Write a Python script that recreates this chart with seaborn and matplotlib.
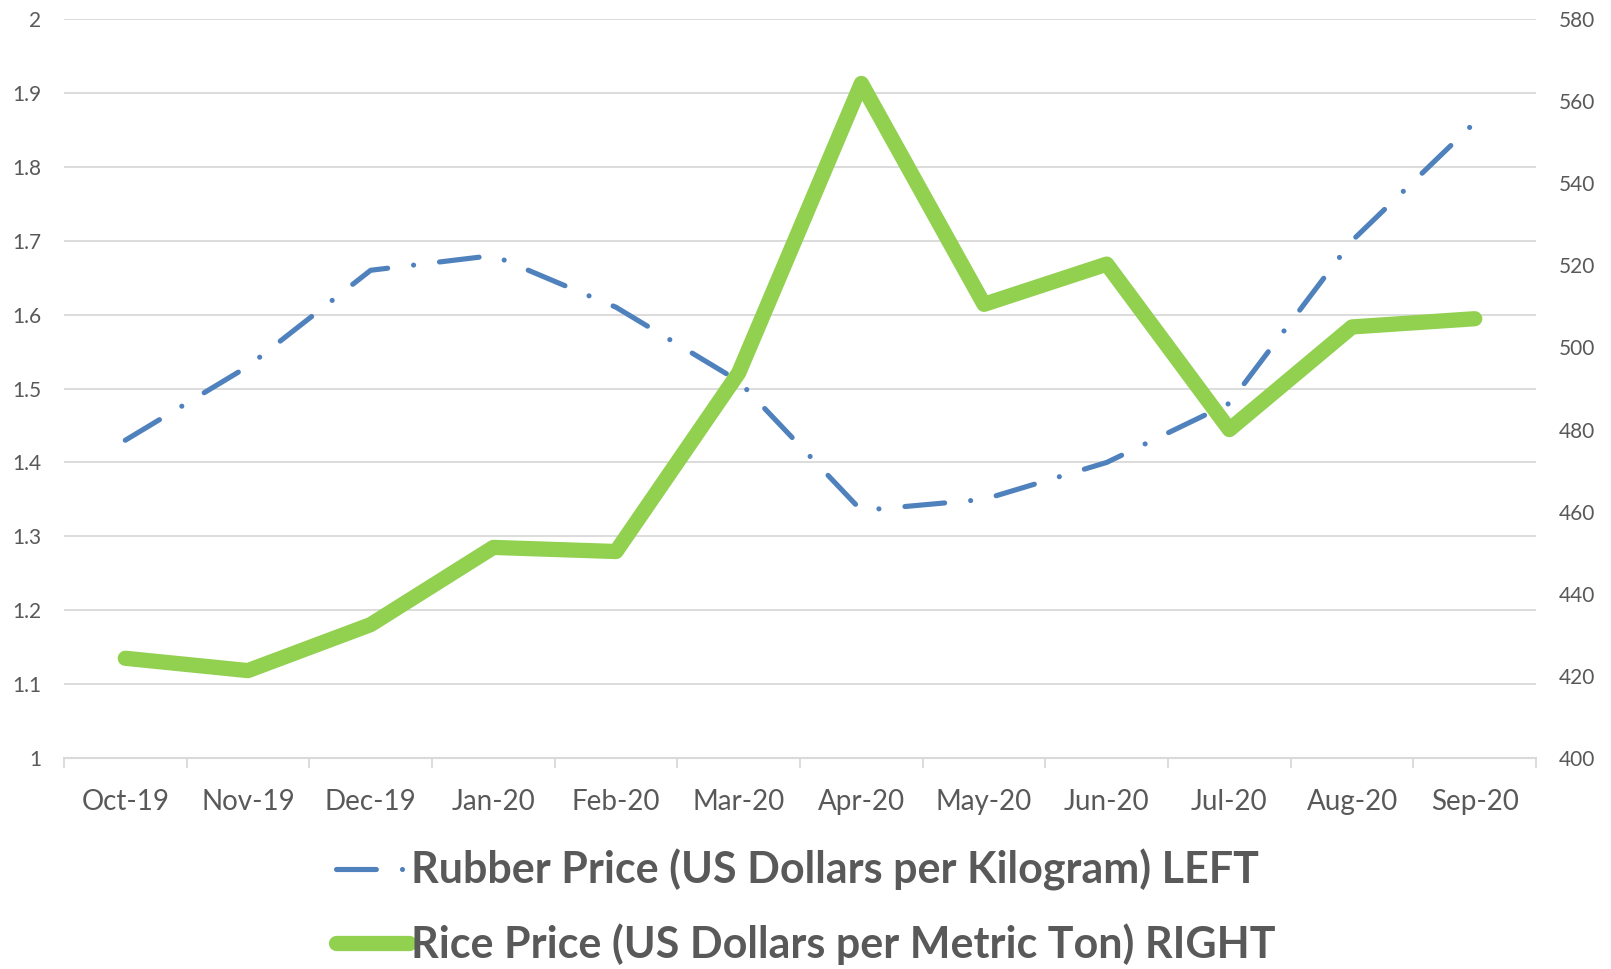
import matplotlib
matplotlib.use("Agg")
import matplotlib.pyplot as plt
import seaborn as sns
import pandas as pd

# data
months = ["Oct-19", "Nov-19", "Dec-19", "Jan-20", "Feb-20", "Mar-20",
          "Apr-20", "May-20", "Jun-20", "Jul-20", "Aug-20", "Sep-20"]
rubber = [1.43, 1.53, 1.66, 1.68, 1.61, 1.51, 1.335, 1.35, 1.40, 1.48, 1.70, 1.86]
rice = [424.3, 421.3, 432.5, 451.3, 450.3, 493.8, 564.3, 510.5, 520.3, 480.0, 505.0, 507.0]
left_ticks = [1.0, 1.1, 1.2, 1.3, 1.4, 1.5, 1.6, 1.7, 1.8, 1.9, 2.0]
left_labels = ["1", "1.1", "1.2", "1.3", "1.4", "1.5", "1.6", "1.7", "1.8", "1.9", "2"]
right_ticks = [400, 420, 440, 460, 480, 500, 520, 540, 560, 580]
rubber_name = "Rubber Price (US Dollars per Kilogram) LEFT"
rice_name = "Rice Price (US Dollars per Metric Ton) RIGHT"

BLUE = "#4F81BD"
GREEN = "#92D050"
GRID = "#D9D9D9"
TEXT = "#595959"

df = pd.DataFrame({"month": months, "rubber": rubber, "rice": rice})

sns.set_theme(style="white")
plt.rcParams["font.family"] = ["Lato", "DejaVu Sans"]
plt.rcParams["lines.scale_dashes"] = False

fig = plt.figure(figsize=(16.11, 9.69), dpi=100)
ax = fig.add_axes([0.0397, 0.2177, 0.9138, 0.7627])
ax2 = ax.twinx()

sns.lineplot(data=df, x="month", y="rubber", ax=ax, sort=False, legend=False,
             color=BLUE, lw=3.7, linestyle=(0, (28.7, 18.8, 0.01, 18.8)),
             dash_capstyle="round", solid_capstyle="round", label=rubber_name)
sns.lineplot(data=df, x="month", y="rice", ax=ax2, sort=False, legend=False,
             color=GREEN, lw=11, solid_capstyle="round", solid_joinstyle="round",
             label=rice_name)

# axes
n = len(months)
ax.set_xlim(-0.5, n - 0.5)
ax.set_xticks(range(n))
ax.set_xticklabels(months)
ax.set_xticks([i - 0.5 for i in range(n + 1)], minor=True)
ax.set_ylim(1, 2)
ax.set_yticks(left_ticks)
ax.set_yticklabels(left_labels)
ax2.set_ylim(400, 580)
ax2.set_yticks(right_ticks)
for a in (ax, ax2):
    a.set_xlabel("")
    a.set_ylabel("")
    for s in a.spines.values():
        s.set_visible(False)
ax.spines["bottom"].set_visible(True)
ax.spines["bottom"].set_color(GRID)
ax.spines["bottom"].set_linewidth(1.5)
ax.yaxis.grid(True, color=GRID, lw=1.3)
ax.set_axisbelow(True)
ax2.grid(False)

ax.tick_params(axis="x", which="major", length=0, pad=22, labelsize=20, labelcolor=TEXT)
ax.tick_params(axis="x", which="minor", bottom=True, length=7, width=1.3, color=GRID)
ax.tick_params(axis="y", length=0, pad=16.5, labelsize=15, labelcolor=TEXT)
ax2.tick_params(axis="y", length=0, pad=16, labelsize=15, labelcolor=TEXT)

h1, l1 = ax.get_legend_handles_labels()
h2, l2 = ax2.get_legend_handles_labels()
fig.legend(h1 + h2, l1 + l2, loc="center", bbox_to_anchor=(0.5, 0.064),
           ncol=1, frameon=False, prop={"weight": "bold", "size": 31},
           labelcolor=TEXT, handlelength=1.7, handletextpad=0.05, labelspacing=0.75)

fig.savefig("out.png", dpi=100)
